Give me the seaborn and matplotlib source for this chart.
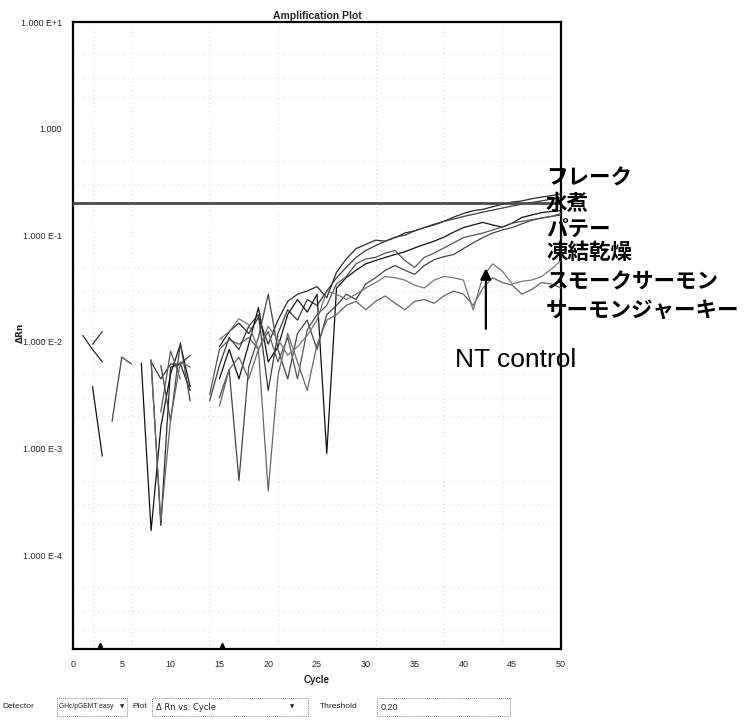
import numpy as np
import pandas as pd
import matplotlib
matplotlib.use("Agg")
import matplotlib.pyplot as plt
import seaborn as sns
from matplotlib.patches import Rectangle

nan = np.nan
cycles = list(range(1, 51))

flake = [0.0115, 0.0085, 0.0065, nan, nan, nan, nan, 0.0068, 0.00019, 0.0058,
         0.0062, 0.0035, nan, nan, 0.009, 0.0125, 0.015, 0.012, 0.017, 0.0095,
         0.016, 0.024, 0.028, 0.030, 0.033, 0.026, 0.045, 0.060, 0.075, 0.082,
         0.090, 0.088, 0.095, 0.105, 0.110, 0.118, 0.125, 0.135, 0.148, 0.160,
         0.170, 0.175, 0.185, 0.195, 0.205, 0.210, 0.220, 0.228, 0.235, 0.245]
mizuni = [nan, 0.0095, 0.0125, nan, nan, nan, nan, 0.0065, 0.0045, 0.0062,
          0.0062, 0.0075, nan, 0.0028, 0.006, 0.011, 0.0085, 0.014, 0.018, 0.0035,
          0.012, 0.020, 0.016, 0.025, 0.022, 0.030, 0.040, 0.050, 0.062, 0.072,
          0.080, 0.088, 0.096, 0.100, 0.110, 0.118, 0.127, 0.135, 0.142, 0.150,
          0.157, 0.165, 0.172, 0.180, 0.188, 0.196, 0.203, 0.210, 0.218, 0.225]
pate = [nan, 0.0038, 0.00085, nan, nan, nan, 0.0063, 0.00017, 0.0016, 0.005,
        0.0095, 0.0038, nan, nan, 0.0045, 0.0085, 0.0045, 0.0095, 0.021, 0.0065,
        0.009, 0.018, 0.025, 0.019, 0.028, 0.0009, 0.032, 0.040, 0.047, 0.054,
        0.058, 0.062, 0.066, 0.070, 0.076, 0.082, 0.088, 0.096, 0.107, 0.118,
        0.125, 0.132, 0.125, 0.119, 0.130, 0.147, 0.155, 0.163, 0.167, 0.170]
freeze = [nan, nan, nan, 0.0018, 0.0072, 0.0062, nan, nan, 0.006, 0.0018,
          0.0098, 0.0028, nan, nan, 0.003, 0.0055, 0.0005, 0.0058, 0.011, 0.028,
          0.0085, 0.0045, 0.012, 0.016, 0.0085, 0.018, 0.022, 0.028, 0.025, 0.035,
          0.040, 0.047, 0.052, 0.047, 0.043, 0.052, 0.059, 0.063, 0.066, 0.075,
          0.085, 0.095, 0.105, 0.112, 0.118, 0.128, 0.138, 0.145, 0.150, 0.155]
smoke = [nan, nan, nan, nan, nan, nan, nan, nan, 0.0022, 0.0082,
         0.0045, nan, nan, 0.0032, 0.0085, 0.0105, 0.0095, 0.011, 0.0085, 0.0125,
         0.0065, 0.011, 0.0045, 0.013, 0.018, 0.022, 0.035, 0.041, 0.054, 0.060,
         0.062, 0.068, 0.072, 0.058, 0.050, 0.062, 0.068, 0.076, 0.085, 0.095,
         0.100, 0.105, 0.112, 0.120, 0.130, 0.135, 0.140, 0.145, 0.150, 0.160]
jerky = [nan, nan, nan, nan, nan, nan, nan, 0.0064, 0.00021, 0.0019,
         0.0065, 0.0058, nan, nan, 0.0025, 0.0055, 0.0072, 0.0045, 0.0085, 0.0004,
         0.0048, 0.012, 0.0065, 0.0035, 0.0095, 0.016, 0.018, 0.022, 0.024, 0.020,
         0.024, 0.027, 0.023, 0.020, 0.024, 0.025, 0.023, 0.027, 0.030, 0.028,
         0.022, 0.032, 0.040, 0.036, 0.034, 0.028, 0.031, 0.036, 0.035, 0.032]
ntc = [nan, nan, nan, nan, nan, nan, nan, nan, nan, nan,
       nan, nan, nan, nan, 0.0105, 0.0125, 0.0165, 0.0145, 0.0085, 0.014,
       0.0105, 0.0075, 0.009, 0.0115, 0.016, 0.030, 0.028, 0.025, 0.028, 0.032,
       0.036, 0.041, 0.040, 0.038, 0.034, 0.032, 0.038, 0.041, 0.040, 0.038,
       0.020, 0.041, 0.054, 0.046, 0.035, 0.037, 0.038, 0.041, 0.048, 0.058]

series_names = ["フレーク", "水煮", "パテー", "凍結乾燥", "スモークサーモン",
                "サーモンジャーキー", "NT control"]
series_values = [flake, mizuni, pate, freeze, smoke, jerky, ntc]
line_colors = ["#2a2a2a", "#3a3a3a", "#111111", "#444444", "#555555", "#666666", "#777777"]

threshold = 0.20
x_ticks = list(range(0, 51, 5))
y_ticks = [1e-4, 1e-3, 1e-2, 1e-1, 1.0, 10.0]
y_tick_labels = ["1.000 E-4", "1.000 E-3", "1.000 E-2", "1.000 E-1", "1.000", "1.000 E+1"]

# long-form data with segment ids so gaps (non-positive values) break lines
rows = []
for name, vals in zip(series_names, series_values):
    seg = 0
    prev_nan = True
    for c, v in zip(cycles, vals):
        if np.isnan(v):
            prev_nan = True
            continue
        if prev_nan:
            seg += 1
        prev_nan = False
        rows.append({"Cycle": c, "dRn": v, "sample": name, "seg": f"{name}_{seg}"})
df = pd.DataFrame(rows)

sns.set_theme(style="white")
plt.rcParams["font.family"] = ["Liberation Sans", "Noto Sans CJK JP", "DejaVu Sans"]

fig = plt.figure(figsize=(7.54, 7.21), dpi=100)
ax = fig.add_axes([73 / 754, 1 - 649 / 721, (561 - 73) / 754, (649 - 22) / 721])

sns.lineplot(data=df, x="Cycle", y="dRn", hue="sample", units="seg", estimator=None,
             palette=dict(zip(series_names, line_colors)), hue_order=series_names,
             linewidth=0.9, legend=False, ax=ax, zorder=3)

ax.set_yscale("log")
ax.set_xlim(0, 50)
ax.set_ylim(10 ** (-4.88), 10.0)

# faint dotted grid
for xv in [2, 6, 14, 21, 31, 38, 44]:
    ax.axvline(xv, color="#c0c0c0", lw=0.6, ls=(0, (1, 4)), zorder=1)
for base in [1e-5, 1e-4, 1e-3, 1e-2, 1e-1, 1.0]:
    for m in [2, 3, 5]:
        ax.axhline(base * m, color="#cccccc", lw=0.6, ls=(0, (1, 5)), zorder=1)

ax.axhline(threshold, color="#4a4a4a", lw=2.0, zorder=4)

ax.set_xticks(x_ticks)
ax.set_xticklabels([str(t) for t in x_ticks], fontsize=6.5)
ax.set_yticks(y_ticks)
ax.set_yticklabels(y_tick_labels, fontsize=6.5)
ax.minorticks_off()
ax.tick_params(axis="both", length=0, pad=8)
ax.set_xlabel("Cycle", fontsize=7, fontweight="bold", labelpad=4)
ax.set_ylabel("")
fig.text(20 / 754, 1 - 333 / 721, "ΔRn", rotation=90, fontsize=6.5, fontweight="bold",
         ha="center", va="center", family=["DejaVu Sans"])
ax.set_title("Amplification Plot", fontsize=7.5, fontweight="bold", pad=2)
for sp in ax.spines.values():
    sp.set_color("black")
    sp.set_linewidth(1.6)

# small baseline markers on the x axis
ax.plot([2.8, 15.3], [10 ** (-4.84), 10 ** (-4.84)], marker="^", ms=3, color="black",
        ls="none", clip_on=False, zorder=5)

# sample labels
label_y = [178, 203, 229, 252, 282, 310]
for name, yy in zip(series_names[:6], label_y):
    fig.text(546 / 754, 1 - yy / 721, name, fontsize=15.5, fontweight="bold",
             family=["Noto Sans CJK JP"], ha="left", va="center", color="black")

# NT control annotation
arrow_x = 42.3
ax.annotate("", xy=(arrow_x, 0.052), xytext=(arrow_x, 0.0125),
            arrowprops=dict(arrowstyle="-|>", color="black", lw=1.6, mutation_scale=16),
            zorder=6)
fig.text(455 / 754, 1 - 360 / 721, "NT control", fontsize=19, ha="left", va="center",
         family=["Liberation Sans"], color="black")

# bottom control bar
yb = 1 - 707 / 721
fs = 6
fig.text(2 / 754, yb, "Detector", fontsize=fs, va="center")
fig.text(59 / 754, yb, "GHc/pGEMT easy", fontsize=4.9, va="center")
fig.text(124 / 754, yb, "▼", fontsize=4, va="center", ha="right", family=["DejaVu Sans"])
fig.text(132 / 754, yb, "Plot", fontsize=fs, va="center")
fig.text(156 / 754, yb, "Δ Rn vs. Cycle", fontsize=fs, va="center", family=["DejaVu Sans"])
fig.text(290 / 754, yb, "▼", fontsize=4, va="center", family=["DejaVu Sans"])
fig.text(320 / 754, yb, "Threshold", fontsize=fs, va="center")
fig.text(381 / 754, yb, "0.20", fontsize=6.5, va="center")
for x0, x1 in [(57, 127), (152, 308), (377, 510)]:
    fig.patches.append(Rectangle((x0 / 754, yb - 9 / 721), (x1 - x0) / 754, 18 / 721,
                                 transform=fig.transFigure, fill=False,
                                 edgecolor="#888888", lw=0.7, ls=(0, (1, 1))))

fig.savefig("out.png", dpi=100)
